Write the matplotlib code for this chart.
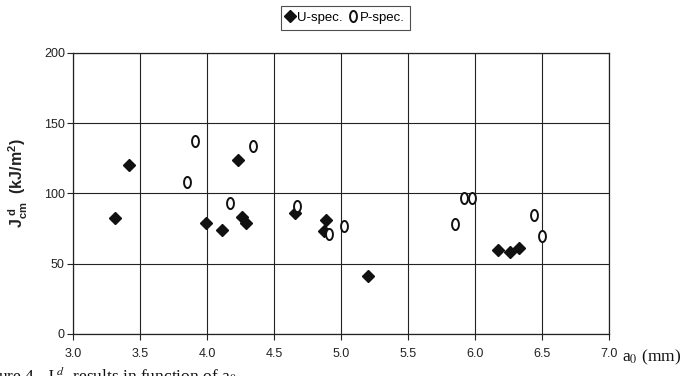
import matplotlib
matplotlib.use("Agg")
import matplotlib.pyplot as plt
from matplotlib.path import Path
import numpy as np

# ---- data ----
u_a0 = [3.31, 3.42, 3.99, 4.11, 4.23, 4.26, 4.29, 4.66, 4.87, 4.89, 5.20, 6.17, 6.26, 6.33]
u_J = [82.5, 120, 79, 74, 124, 83, 79, 86, 73, 81, 41, 60, 58, 61]

p_a0 = [3.91, 4.34, 3.85, 4.17, 4.67, 4.91, 5.02, 5.85, 5.92, 5.98, 6.44, 6.50]
p_J = [137, 134, 108, 93.5, 91, 71, 77, 78, 97, 97, 84.5, 70]

x_ticks = [3.0, 3.5, 4.0, 4.5, 5.0, 5.5, 6.0, 6.5, 7.0]
y_ticks = [0, 50, 100, 150, 200]

plt.rcParams['font.family'] = ['Liberation Sans', 'DejaVu Sans']
plt.rcParams['mathtext.fontset'] = 'custom'
plt.rcParams['mathtext.rm'] = 'Liberation Sans'
plt.rcParams['mathtext.bf'] = 'Liberation Sans:bold'
plt.rcParams['mathtext.it'] = 'Liberation Sans:italic'

fig = plt.figure(figsize=(6.85, 3.76), dpi=100)
ax = fig.add_axes([73.2 / 685, 1 - 334 / 376, 535.6 / 685, 281.1 / 376])

# tall oval marker ("0"-like)
t = np.linspace(0, 2 * np.pi, 60)
oval = Path(np.column_stack([0.62 * np.cos(t), np.sin(t)]), closed=True)

ax.plot(u_a0, u_J, linestyle='none', marker='D', ms=6, color='#111111',
        label='U-spec.', zorder=3)
ax.plot(p_a0, p_J, linestyle='none', marker=oval, ms=8, mfc='white',
        mec='#111111', mew=1.4, label='P-spec.', zorder=3)

ax.set_xlim(3.0, 7.0)
ax.set_ylim(0, 200)
ax.set_xticks(x_ticks)
ax.set_xticklabels([f"{v:.1f}" for v in x_ticks])
ax.set_yticks(y_ticks)
ax.grid(True, color='#222222', linewidth=0.8)
ax.set_axisbelow(True)
for s in ax.spines.values():
    s.set_color('#222222')
    s.set_linewidth(0.9)
ax.tick_params(axis='both', direction='out', length=4, width=0.8,
               color='#222222', labelsize=9, labelcolor='#222222')
ax.tick_params(axis='x', pad=6)
ax.tick_params(axis='y', pad=2)

fig.text(18 / 685, 1 - 183 / 376, r'$\mathbf{J_{cm}^{\ d}\ \ (kJ/m^{2})}$',
         rotation=90, ha='center', va='center', fontsize=11.5, color='#222222')

fig.text(622 / 685, 1 - 357 / 376, r'a$_0$ (mm)', family='Liberation Serif',
         fontsize=12.5, ha='left', va='center', color='#111111',
         math_fontfamily='stix')

fig.text(-2 / 685, 1 - 382 / 376,
         r'ure 4.  J$_{cm}^{\ d}$ results in function of a$_0$',
         family='Liberation Serif', fontsize=12.5, ha='left', va='baseline',
         color='#111111', math_fontfamily='stix')

leg = fig.legend(loc='center', bbox_to_anchor=(345.5 / 685, 1 - 18 / 376),
                 ncol=2, frameon=True, fancybox=False, fontsize=9.5,
                 handlelength=0.6, handletextpad=0.2, columnspacing=0.5,
                 borderpad=0.45, borderaxespad=0)
leg.get_frame().set_edgecolor('#222222')
leg.get_frame().set_linewidth(0.8)

fig.savefig('out.png', dpi=100)
